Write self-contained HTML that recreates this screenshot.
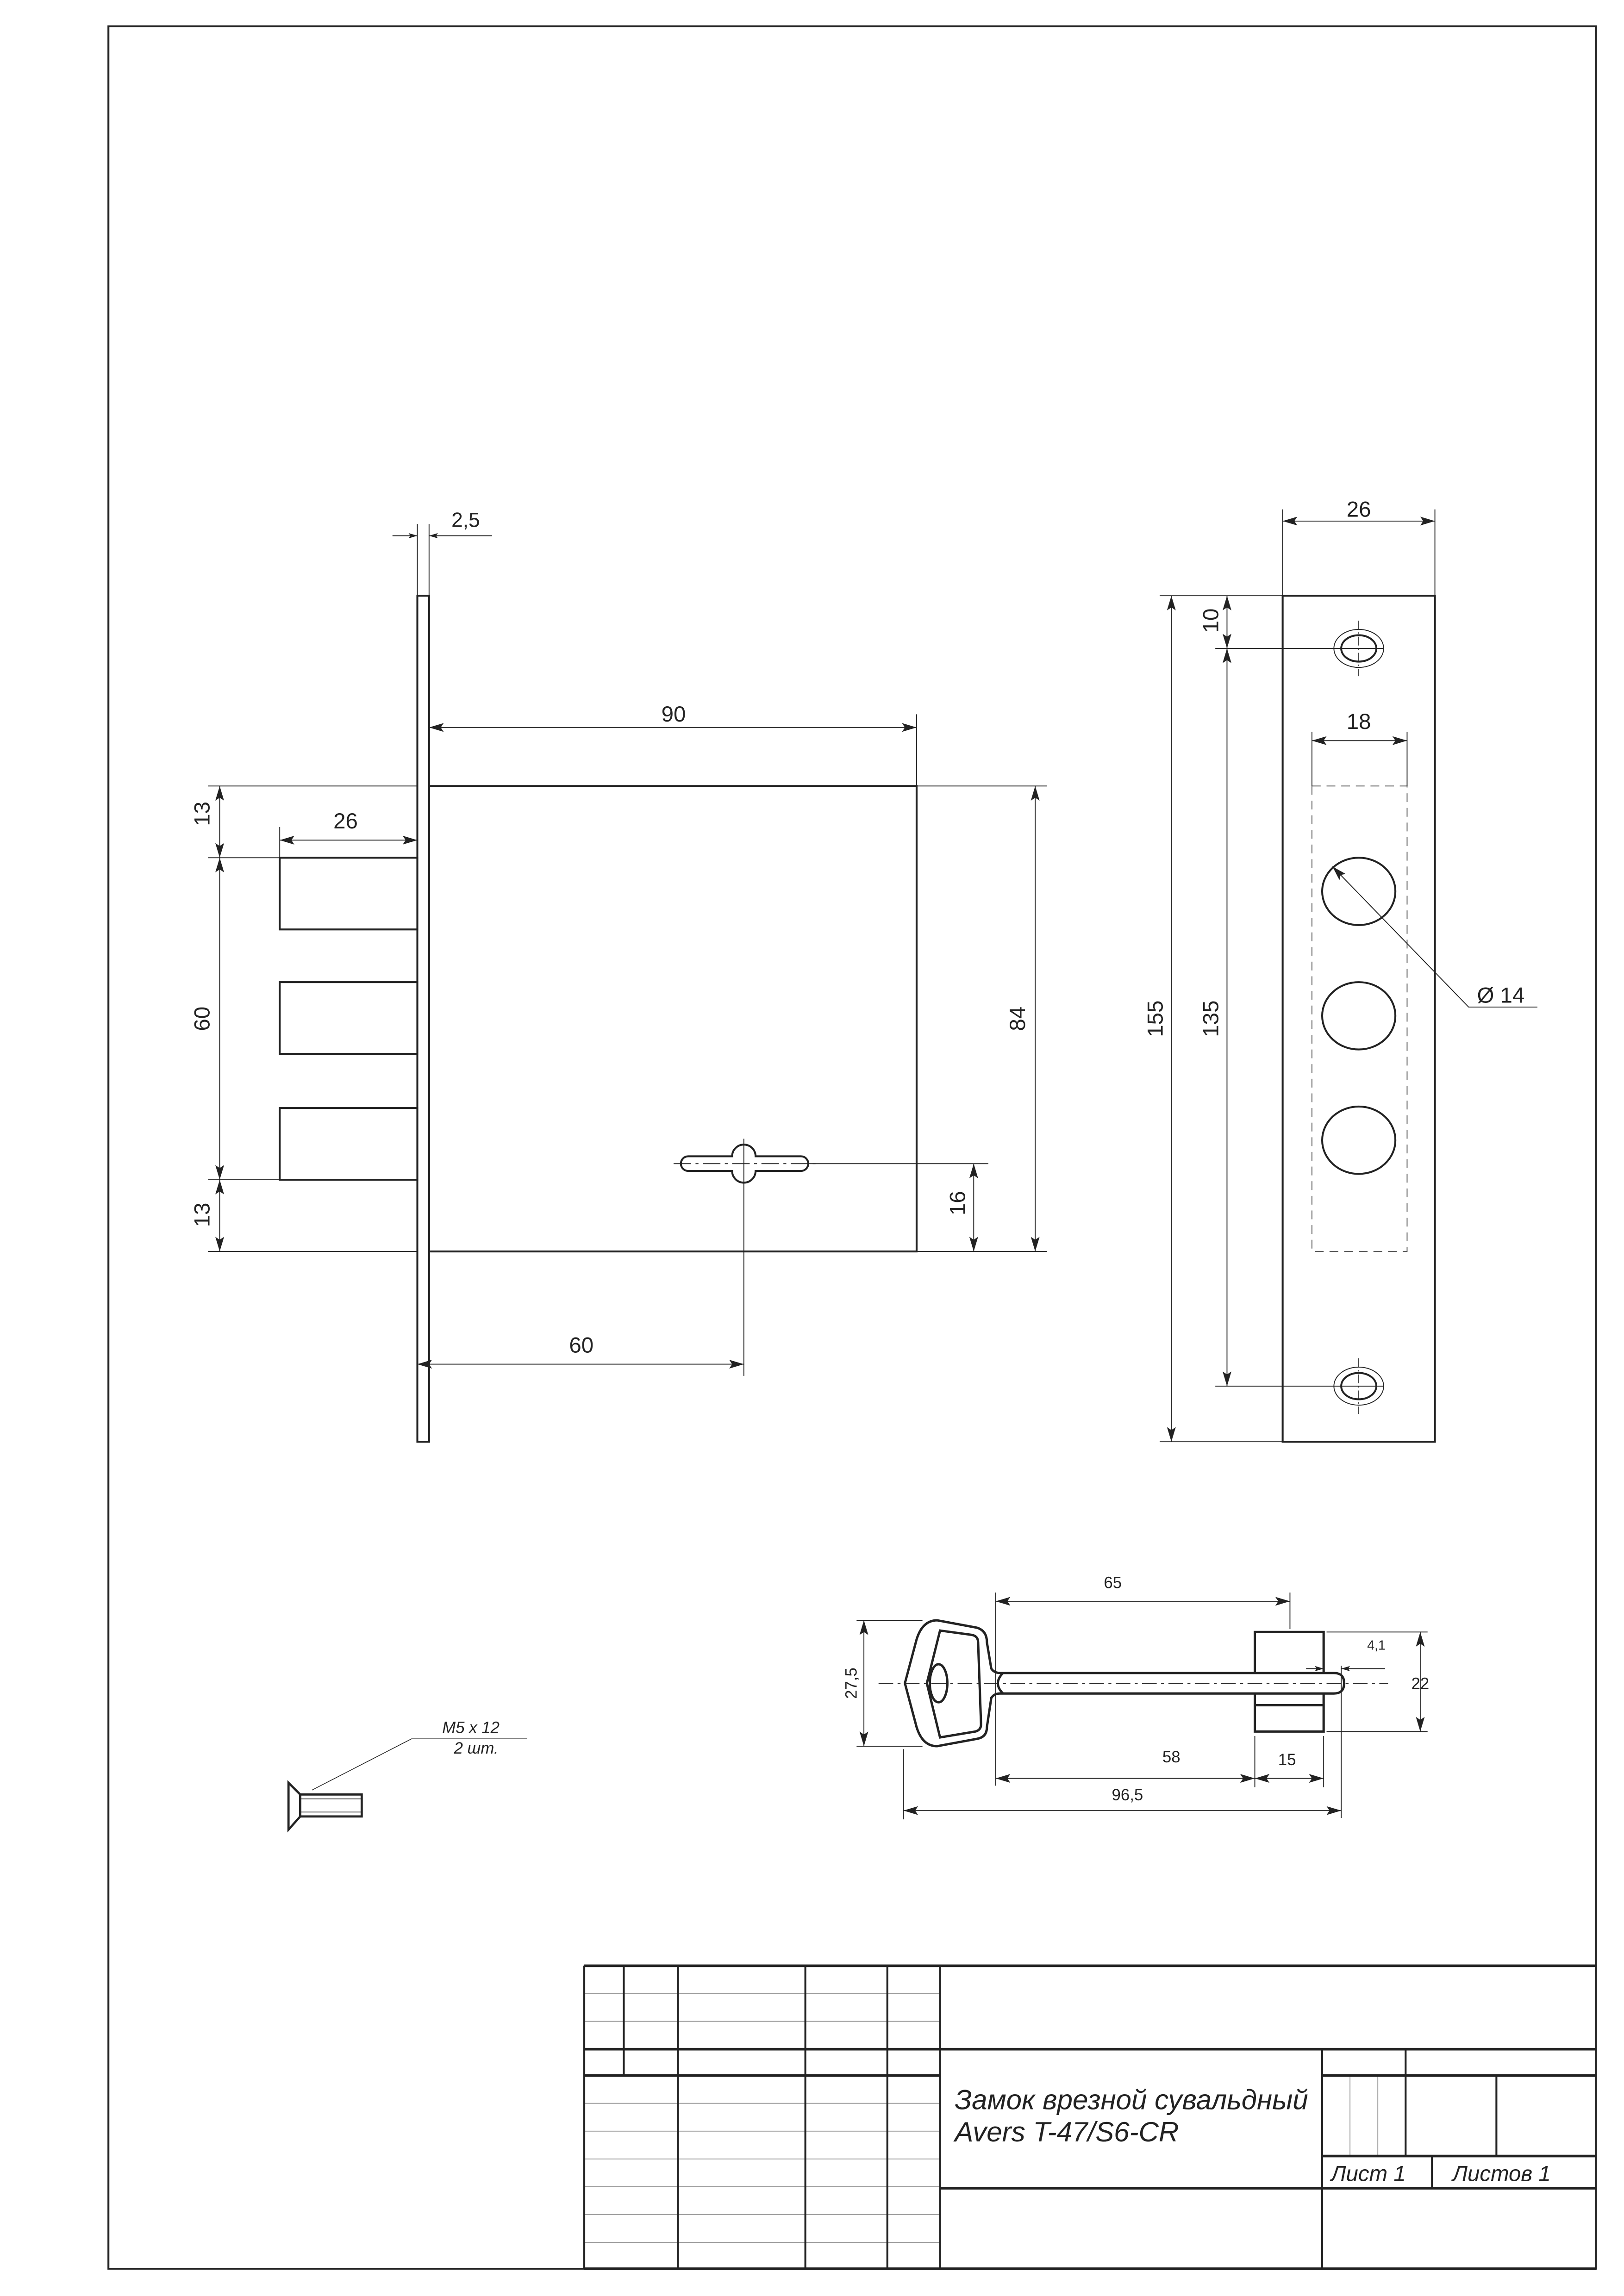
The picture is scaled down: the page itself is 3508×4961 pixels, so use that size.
<!DOCTYPE html>
<html><head><meta charset="utf-8"><style>
html,body{margin:0;padding:0;background:#fff}
svg{display:block}
text{font-family:"Liberation Sans","DejaVu Sans",sans-serif;fill:#222}
</style></head><body>
<svg xmlns="http://www.w3.org/2000/svg" width="3508" height="4961" viewBox="0 0 1103 1560">
<defs>
<marker id="a" viewBox="0 0 10 6" refX="10" refY="3" markerWidth="10" markerHeight="6" markerUnits="userSpaceOnUse" orient="auto-start-reverse"><path d="M0,0 L10,3 L0,6 L2,3 Z" fill="#222"/></marker>
<marker id="s" viewBox="0 0 10 6" refX="10" refY="3" markerWidth="6" markerHeight="3.6" markerUnits="userSpaceOnUse" orient="auto-start-reverse"><path d="M0,0 L10,3 L0,6 L2,3 Z" fill="#222"/></marker>
</defs>
<rect width="1103" height="1560" fill="#fff"/>
<g transform="scale(0.9945)">
<g fill="none" stroke="#222">
<rect x="74" y="18" width="1016" height="1532" stroke-width="1.3"/>

<g stroke-width="1.3">
<rect x="285" y="407" width="8" height="578"/>
<rect x="293" y="537" width="333" height="318"/>
<rect x="191" y="586" width="94" height="49"/>
<rect x="191" y="671" width="94" height="49"/>
<rect x="191" y="757" width="94" height="49"/>
<path d="M470,790 L500,790 A8,8 0 0 1 516,790 L547,790 A5,5 0 0 1 547,800 L516,800 A8,8 0 0 1 500,800 L470,800 A5,5 0 0 1 470,790 Z"/>
</g>
<g stroke-width="0.6">
<line x1="460" y1="795" x2="560" y2="795" stroke-dasharray="12,3,2,3"/>
<line x1="285" y1="358" x2="285" y2="407"/><line x1="293" y1="358" x2="293" y2="407"/>
<line x1="268" y1="366" x2="285" y2="366" marker-end="url(#s)"/>
<line x1="336" y1="366" x2="293" y2="366" marker-end="url(#s)"/>
<line x1="626" y1="488" x2="626" y2="537"/>
<line x1="293" y1="497" x2="626" y2="497" marker-start="url(#a)" marker-end="url(#a)"/>
<line x1="191" y1="565" x2="191" y2="586"/>
<line x1="191" y1="574" x2="285" y2="574" marker-start="url(#a)" marker-end="url(#a)"/>
<line x1="142" y1="537" x2="285" y2="537"/>
<line x1="142" y1="586" x2="191" y2="586"/>
<line x1="142" y1="806" x2="191" y2="806"/>
<line x1="142" y1="855" x2="285" y2="855"/>
<line x1="150" y1="537" x2="150" y2="586" marker-start="url(#a)" marker-end="url(#a)"/>
<line x1="150" y1="586" x2="150" y2="806" marker-start="url(#a)" marker-end="url(#a)"/>
<line x1="150" y1="806" x2="150" y2="855" marker-start="url(#a)" marker-end="url(#a)"/>
<line x1="626" y1="537" x2="715" y2="537"/><line x1="626" y1="855" x2="715" y2="855"/>
<line x1="707" y1="537" x2="707" y2="855" marker-start="url(#a)" marker-end="url(#a)"/>
<line x1="552" y1="795" x2="675" y2="795"/>
<line x1="665" y1="795" x2="665" y2="855" marker-start="url(#a)" marker-end="url(#a)"/>
<line x1="508" y1="778" x2="508" y2="940"/>
<line x1="285" y1="932" x2="508" y2="932" marker-start="url(#a)" marker-end="url(#a)"/>
</g>

<g stroke-width="1.3">
<rect x="876" y="407" width="104" height="578"/>
<ellipse cx="928" cy="609" rx="25" ry="23"/>
<ellipse cx="928" cy="694" rx="25" ry="23"/>
<ellipse cx="928" cy="779" rx="25" ry="23"/>
<ellipse cx="928" cy="443" rx="12" ry="9"/>
<ellipse cx="928" cy="947" rx="12" ry="9"/>
</g>
<g stroke-width="0.6">
<ellipse cx="928" cy="443" rx="17" ry="13"/>
<ellipse cx="928" cy="947" rx="17" ry="13"/>
<line x1="928" y1="424" x2="928" y2="462" stroke-dasharray="6,2,1,2"/>
<line x1="928" y1="928" x2="928" y2="966" stroke-dasharray="6,2,1,2"/>
<rect x="896" y="537" width="65" height="318" stroke-dasharray="6,4" stroke="#555"/>
<line x1="876" y1="348" x2="876" y2="407"/><line x1="980" y1="348" x2="980" y2="407"/>
<line x1="876" y1="356" x2="980" y2="356" marker-start="url(#a)" marker-end="url(#a)"/>
<line x1="896" y1="500" x2="896" y2="537"/><line x1="961" y1="500" x2="961" y2="537"/>
<line x1="896" y1="506" x2="961" y2="506" marker-start="url(#a)" marker-end="url(#a)"/>
<polyline points="1050,688 1003,688 910,592" marker-end="url(#a)"/>
<line x1="792" y1="407" x2="876" y2="407"/><line x1="792" y1="985" x2="876" y2="985"/>
<line x1="800" y1="407" x2="800" y2="985" marker-start="url(#a)" marker-end="url(#a)"/>
<line x1="830" y1="443" x2="945" y2="443"/><line x1="830" y1="947" x2="945" y2="947"/>
<line x1="838" y1="443" x2="838" y2="947" marker-start="url(#a)" marker-end="url(#a)"/>
<line x1="838" y1="407" x2="838" y2="443" marker-start="url(#a)" marker-end="url(#a)"/>
</g>

<g stroke-width="1.6">
<path d="M640,1107 L667,1112 Q674,1114 674,1122 L677,1140 Q679,1143 683,1143 L911,1143 Q918,1143 918,1150 Q918,1157 911,1157 L683,1157 Q679,1157 677,1160 L674,1180 Q674,1187 667,1188 L640,1193 Q630,1193 626,1180 L618,1150 L626,1120 Q630,1107 640,1107 Z"/>
<path d="M642,1114 L664,1117 Q668,1118 668,1122 L670,1178 Q670,1182 666,1183 L642,1187 L633,1150 Z"/>
<ellipse cx="641" cy="1150" rx="6" ry="13"/>
<path d="M685,1143 Q678,1150 685,1157"/>
<path d="M857,1143 L857,1115 L904,1115 L904,1143 M857,1157 L857,1183 L904,1183 L904,1157 M857,1165 L904,1165"/>
</g>
<g stroke-width="0.6">
<line x1="600" y1="1150" x2="948" y2="1150" stroke-dasharray="10,3,2,3"/>
<line x1="680" y1="1088" x2="680" y2="1220"/><line x1="881" y1="1088" x2="881" y2="1113"/>
<line x1="680" y1="1094" x2="881" y2="1094" marker-start="url(#a)" marker-end="url(#a)"/>
<line x1="585" y1="1107" x2="630" y2="1107"/><line x1="585" y1="1193" x2="630" y2="1193"/>
<line x1="590" y1="1107" x2="590" y2="1193" marker-start="url(#a)" marker-end="url(#a)"/>
<line x1="906" y1="1115" x2="975" y2="1115"/><line x1="906" y1="1183" x2="975" y2="1183"/>
<line x1="970" y1="1115" x2="970" y2="1183" marker-start="url(#a)" marker-end="url(#a)"/>
<line x1="916" y1="1138" x2="916" y2="1242"/>
<line x1="892" y1="1140" x2="904" y2="1140" marker-end="url(#s)"/>
<line x1="946" y1="1140" x2="916" y2="1140" marker-end="url(#s)"/>
<line x1="857" y1="1186" x2="857" y2="1221"/><line x1="904" y1="1186" x2="904" y2="1221"/>
<line x1="680" y1="1215" x2="857" y2="1215" marker-start="url(#a)" marker-end="url(#a)"/>
<line x1="857" y1="1215" x2="904" y2="1215" marker-start="url(#a)" marker-end="url(#a)"/>
<line x1="617" y1="1195" x2="617" y2="1243"/>
<line x1="617" y1="1237" x2="916" y2="1237" marker-start="url(#a)" marker-end="url(#a)"/>
</g>

<g stroke-width="1.5">
<path d="M197,1218 L197,1250 L205,1241 L205,1226 Z"/>
<rect x="205" y="1226" width="42" height="15"/>
</g>
<g stroke-width="0.5">
<line x1="205" y1="1229" x2="247" y2="1229"/><line x1="205" y1="1238" x2="247" y2="1238"/>
<polyline points="213,1223 281,1188 360,1188"/>
</g>

<g stroke-width="0.6" stroke="#999">
<line x1="399" y1="1362" x2="642" y2="1362"/><line x1="399" y1="1381" x2="642" y2="1381"/>
<line x1="399" y1="1437" x2="642" y2="1437"/><line x1="399" y1="1456" x2="642" y2="1456"/>
<line x1="399" y1="1475" x2="642" y2="1475"/><line x1="399" y1="1494" x2="642" y2="1494"/>
<line x1="399" y1="1513" x2="642" y2="1513"/><line x1="399" y1="1532" x2="642" y2="1532"/>
<line x1="922" y1="1418" x2="922" y2="1473"/><line x1="941" y1="1418" x2="941" y2="1473"/>
</g>
<g stroke-width="1.3">
<line x1="399" y1="1343" x2="1090" y2="1343" stroke-width="1.8"/>
<line x1="399" y1="1343" x2="399" y2="1550"/>
<line x1="399" y1="1400" x2="1090" y2="1400" stroke-width="1.8"/>
<line x1="399" y1="1418" x2="642" y2="1418" stroke-width="1.8"/>
<line x1="903" y1="1418" x2="1090" y2="1418" stroke-width="1.8"/>
<line x1="426" y1="1343" x2="426" y2="1418"/>
<line x1="463" y1="1343" x2="463" y2="1550"/>
<line x1="550" y1="1343" x2="550" y2="1550"/>
<line x1="606" y1="1343" x2="606" y2="1550"/>
<line x1="642" y1="1343" x2="642" y2="1550"/>
<line x1="903" y1="1400" x2="903" y2="1550"/>
<line x1="960" y1="1400" x2="960" y2="1473"/>
<line x1="1022" y1="1418" x2="1022" y2="1473"/>
<line x1="903" y1="1473" x2="1090" y2="1473" stroke-width="1.8"/>
<line x1="978" y1="1473" x2="978" y2="1495"/>
<line x1="642" y1="1495" x2="1090" y2="1495" stroke-width="1.8"/>
<line x1="399" y1="1550" x2="1090" y2="1550" stroke-width="1.8"/>
</g>
</g>

<g font-size="15" text-anchor="middle">
<text x="318" y="360" font-size="14">2,5</text>
<text x="460" y="493">90</text>
<text x="236" y="566">26</text>
<text x="143" y="556" transform="rotate(-90 143 556)">13</text>
<text x="143" y="696" transform="rotate(-90 143 696)">60</text>
<text x="143" y="830" transform="rotate(-90 143 830)">13</text>
<text x="700" y="696" transform="rotate(-90 700 696)">84</text>
<text x="659" y="822" transform="rotate(-90 659 822)">16</text>
<text x="397" y="924">60</text>
<text x="928" y="353">26</text>
<text x="928" y="498">18</text>
<text x="1025" y="685">Ø 14</text>
<text x="794" y="696" transform="rotate(-90 794 696)">155</text>
<text x="832" y="696" transform="rotate(-90 832 696)">135</text>
<text x="832" y="424" transform="rotate(-90 832 424)">10</text>
</g>
<g font-size="11" text-anchor="middle">
<text x="760" y="1085">65</text>
<text x="585" y="1150" transform="rotate(-90 585 1150)">27,5</text>
<text x="970" y="1154">22</text>
<text x="940" y="1127" font-size="9">4,1</text>
<text x="800" y="1204">58</text>
<text x="879" y="1206">15</text>
<text x="770" y="1230">96,5</text>
</g>
<g font-style="italic" font-size="11">
<text x="302" y="1184">M5 x 12</text>
<text x="310" y="1198">2 шт.</text>
</g>
<g font-style="italic" font-size="19">
<text x="652" y="1441">Замок врезной сувальдный</text>
<text x="652" y="1463">Avers T-47/S6-CR</text>
<text x="909" y="1490" font-size="15">Лист 1</text>
<text x="992" y="1490" font-size="15">Листов 1</text>
</g>
</g>
</svg>
</body></html>
